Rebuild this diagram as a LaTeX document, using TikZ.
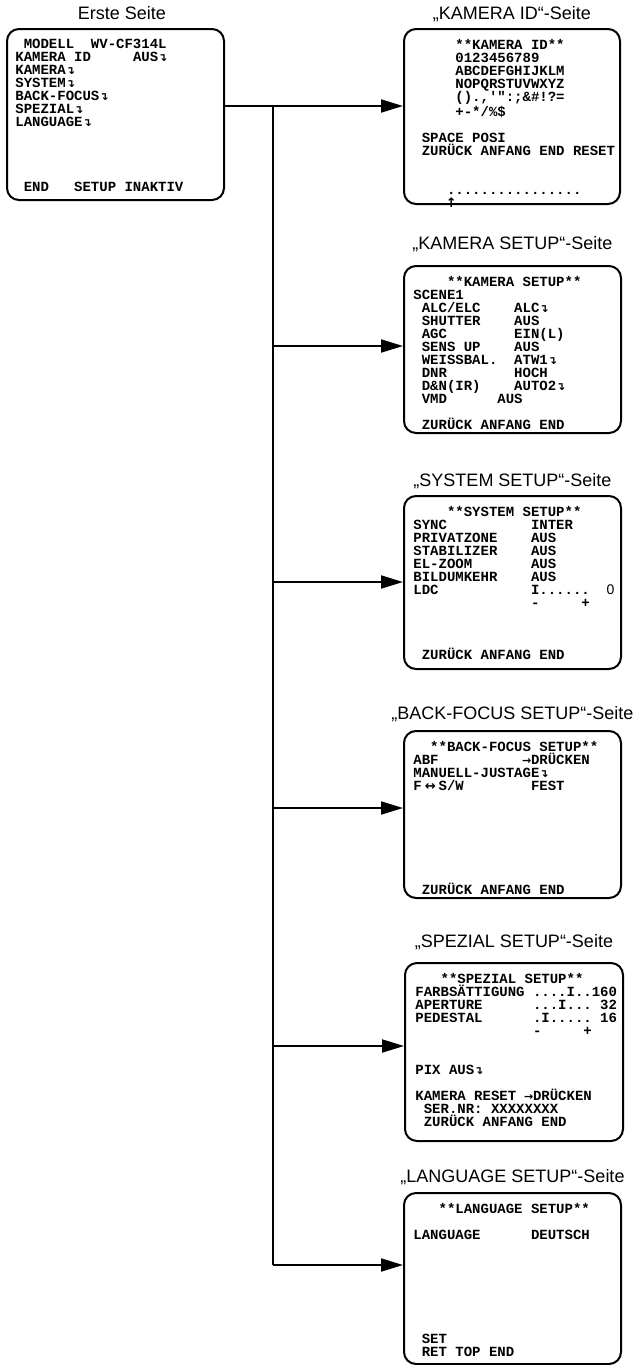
\documentclass[tikz,border=0pt]{standalone}
\usepackage{fontspec}
\setmainfont{Liberation Sans}
\setmonofont{Liberation Mono}
\newfontfamily\symfont{DejaVu Sans}
\usepackage{tikz}
\usetikzlibrary{positioning, arrows.meta}

% Leerzeichen in Zeichenbreite, Pfeile und Enter-Zeichen
\newcommand{\sk}[1]{\hspace*{#1\dimexpr0.6em\relax}}
\newcommand{\ent}{{\symfont\fontsize{5.5}{5.5}\selectfont ↴}}
\newcommand{\pf}[1]{\makebox[0.6em]{\symfont\bfseries\fontsize{5.5}{5.5}\selectfont #1}}

\begin{document}
\begin{tikzpicture}[x=0.5pt, y=-0.5pt,
    screen/.style={draw, line width=1pt, rounded corners=6pt, anchor=north west, inner sep=0pt},
    osd/.style={font=\ttfamily\bfseries\fontsize{7}{6.5}\selectfont, align=left, inner sep=0pt, anchor=north west},
    pagetitle/.style={font=\fontsize{9}{11}\selectfont, inner sep=0pt, text depth=0pt},
    flow/.style={line width=1pt, ->},
    >={Triangle[length=11pt, width=6.5pt]}]

\useasboundingbox (0,0) rectangle (640,1365);

% Erste Seite
\node[screen, minimum width=108.5pt, minimum height=85.5pt] (S1) at (6,28) {};
\node[pagetitle, above=4pt of S1, xshift=3.25pt] (T1) {Erste Seite};
\node[osd, below right=5.5pt and 4.5pt of S1.north west] (M1) {%
\sk{1}MODELL\sk{2}WV-CF314L\\
KAMERA ID\sk{5}AUS\ent\\
KAMERA\ent\\
SYSTEM\ent\\
BACK-FOCUS\ent\\
SPEZIAL\ent\\
LANGUAGE\ent\\[26pt]
\sk{1}END\sk{3}SETUP INAKTIV};

% Kamera ID
\node[screen, minimum width=108pt, minimum height=87.5pt] (S2) at (403,28) {};
\node[pagetitle, above=4pt of S2] (T2) {„KAMERA ID“-Seite};
\node[osd, below right=5.5pt and 5pt of S2.north west] (M2) {%
\sk{5}**KAMERA ID**\\
\sk{5}0123456789\\
\sk{5}ABCDEFGHIJKLM\\
\sk{5}NOPQRSTUVWXYZ\\
\sk{5}().,\textquotesingle":;\&\#!?=\\
\sk{5}+-*/\%\$\\[6.5pt]
\sk{1}SPACE POSI\\
\sk{1}ZURÜCK ANFANG END RESET\\[13pt]
\sk{4}................\\
\sk{4}\makebox[0.6em]{\symfont\fontsize{6.5}{6.5}\selectfont ↑}};

% Kamera Setup
\node[screen, minimum width=108.5pt, minimum height=83.5pt] (S3) at (403,265) {};
\node[pagetitle, above=7.5pt of S3] (T3) {„KAMERA SETUP“-Seite};
\node[osd, below right=5.5pt and 5pt of S3.north west] (M3) {%
\sk{4}**KAMERA SETUP**\\
SCENE1\\
\sk{1}ALC/ELC\sk{4}ALC\ent\\
\sk{1}SHUTTER\sk{4}AUS\\
\sk{1}AGC\sk{8}EIN(L)\\
\sk{1}SENS UP\sk{4}AUS\\
\sk{1}WEISSBAL.\sk{2}ATW1\ent\\
\sk{1}DNR\sk{8}HOCH\\
\sk{1}D\&N(IR)\sk{4}AUTO2\ent\\
\sk{1}VMD\sk{6}AUS\\[6.5pt]
\sk{1}ZURÜCK ANFANG END};

% System Setup
\node[screen, minimum width=108.5pt, minimum height=86.5pt] (S4) at (403,495) {};
\node[pagetitle, above=4pt of S4] (T4) {„SYSTEM SETUP“-Seite};
\node[osd, below right=5.5pt and 5pt of S4.north west] (M4) {%
\sk{4}**SYSTEM SETUP**\\
SYNC\sk{10}INTER\\
PRIVATZONE\sk{4}AUS\\
STABILIZER\sk{4}AUS\\
EL-ZOOM\sk{7}AUS\\
BILDUMKEHR\sk{4}AUS\\
LDC\sk{11}I......\sk{2}{\rmfamily\mdseries 0}\\
\sk{14}-\sk{5}+\\[19.5pt]
\sk{1}ZURÜCK ANFANG END};

% Back-Focus Setup
\node[screen, minimum width=108.5pt, minimum height=83.5pt] (S5) at (403,730) {};
\node[pagetitle, above=5pt of S5] (T5) {„BACK-FOCUS SETUP“-Seite};
\node[osd, below right=5.5pt and 5pt of S5.north west] (M5) {%
\sk{2}**BACK-FOCUS SETUP**\\
ABF\sk{10}\pf{→}DRÜCKEN\\
MANUELL-JUSTAGE\ent\\
F\makebox[1.2em]{\symfont\fontsize{6.5}{6.5}\selectfont ↔}S/W\sk{8}FEST\\[45.5pt]
\sk{1}ZURÜCK ANFANG END};

% Spezial Setup
\node[screen, minimum width=109pt, minimum height=89pt] (S6) at (404,962) {};
\node[pagetitle, above=7pt of S6] (T6) {„SPEZIAL SETUP“-Seite};
\node[osd, below right=5.5pt and 5.5pt of S6.north west] (M6) {%
\sk{3}**SPEZIAL SETUP**\\
FARBSÄTTIGUNG ....I..160\\
APERTURE\sk{6}...I...\sk{1}32\\
PEDESTAL\sk{6}.I.....\sk{1}16\\
\sk{14}-\sk{5}+\\[13pt]
PIX AUS\ent\\[6.5pt]
KAMERA RESET \pf{→}DRÜCKEN\\
\sk{1}SER.NR: XXXXXXXX\\
\sk{1}ZURÜCK ANFANG END};

% Language Setup
\node[screen, minimum width=108.5pt, minimum height=85.5pt] (S7) at (403,1192) {};
\node[pagetitle, above=4.5pt of S7] (T7) {„LANGUAGE SETUP“-Seite};
\node[osd, below right=5.5pt and 5pt of S7.north west] (M7) {%
\sk{3}**LANGUAGE SETUP**\\[6.5pt]
LANGUAGE\sk{6}DEUTSCH\\[45.5pt]
\sk{1}SET\\
\sk{1}RET TOP END};

% Verbindungen
\coordinate (J2) at (273,106);
\coordinate (J3) at (273,346);
\coordinate (J4) at (273,582);
\coordinate (J5) at (273,808);
\coordinate (J6) at (273,1046);
\coordinate (J7) at (273,1265);

\draw[flow] (J2 -| S1.east) -- (J2 -| S2.west);
\draw[line width=1pt] (J2) -- (J7);
\foreach \n in {3,...,7}
  \draw[flow] (J\n) -- (J\n -| S\n.west);

\end{tikzpicture}
\end{document}
